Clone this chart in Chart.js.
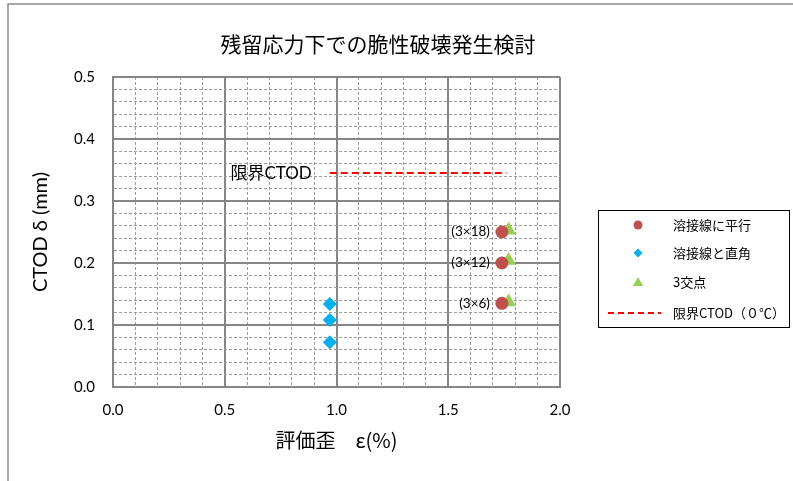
<!DOCTYPE html>
<html><head><meta charset="utf-8">
<script src="https://cdn.jsdelivr.net/npm/chart.js@4/dist/chart.umd.min.js"></script>
<style>html,body{margin:0;padding:0;background:#fff}</style>
</head><body>
<canvas id="c" width="793" height="481" style="width:793px;height:481px;display:block"></canvas>
<script>
// ---- data ----
const chartTitle = '残留応力下での脆性破壊発生検討';
const xTitle = '評価歪　ε(%)';
const yTitle = 'CTOD δ (mm)';
const seriesNames = ['溶接線に平行', '溶接線と直角', '3交点', '限界CTOD（０℃）'];
const parallelX = [1.74, 1.74, 1.74];
const parallelY = [0.25, 0.20, 0.135];
const perpX = [0.97, 0.97, 0.97];
const perpY = [0.134, 0.108, 0.072];
const tripleX = [1.77, 1.77, 1.77];
const tripleY = [0.253, 0.204, 0.137];
const pointLabels = ['(3×18)', '(3×12)', '(3×6)'];
const limitX = [0.97, 1.76];
const limitY = [0.345, 0.345];
const limitLabel = '限界CTOD';
const xRange = [0, 2.0];
const yRange = [0, 0.5];

const zip = (xs, ys) => xs.map((x, i) => ({x, y: ys[i]}));
const FONT = "Lato, 'Noto Sans CJK JP', sans-serif";
const CJK = "'Noto Sans CJK JP', sans-serif";
const colors = ['#C0504D', '#00B0F0', '#92D050', '#FF0000'];

const isMult = (v, step) => Math.abs(v / step - Math.round(v / step)) < 1e-6;

const decor = {
  id: 'decor',
  beforeDraw(chart) {
    const ctx = chart.ctx;
    ctx.save();
    ctx.fillStyle = '#fff';
    ctx.fillRect(0, 0, chart.width, chart.height);
    ctx.strokeStyle = '#8c8c8c';
    ctx.lineWidth = 1.5;
    ctx.strokeRect(8, 4, 900, 600);
    ctx.restore();
  },
  afterDraw(chart) {
    const ctx = chart.ctx;
    const xs = chart.scales.x, ys = chart.scales.y;
    ctx.save();
    // title
    ctx.fillStyle = '#000';
    ctx.font = "21px " + CJK;
    ctx.textAlign = 'center';
    ctx.textBaseline = 'middle';
    ctx.fillText(chartTitle, 378, 44);
    // point labels
    ctx.font = "13.5px " + FONT;
    ctx.textAlign = 'right';
    pointLabels.forEach((t, i) => {
      ctx.fillText(t, xs.getPixelForValue(parallelX[i]) - 12, ys.getPixelForValue(parallelY[i]));
    });
    // limit label
    ctx.font = "17px " + FONT;
    ctx.fillText(limitLabel, xs.getPixelForValue(limitX[0]) - 18, ys.getPixelForValue(limitY[0]));
    // legend
    const bx = 598, by = 210, bw = 191, bh = 117;
    ctx.strokeStyle = '#000';
    ctx.lineWidth = 1;
    ctx.strokeRect(bx + 0.5, by + 0.5, bw, bh);
    const rows = [225, 253, 282, 313];
    const mx = 638;
    ctx.fillStyle = colors[0];
    ctx.beginPath(); ctx.arc(mx, rows[0], 4.5, 0, Math.PI * 2); ctx.fill();
    ctx.fillStyle = colors[1];
    ctx.beginPath(); ctx.moveTo(mx, rows[1] - 4.5); ctx.lineTo(mx + 4.5, rows[1]); ctx.lineTo(mx, rows[1] + 4.5); ctx.lineTo(mx - 4.5, rows[1]); ctx.closePath(); ctx.fill();
    ctx.fillStyle = colors[2];
    ctx.beginPath(); ctx.moveTo(mx, rows[2] - 5); ctx.lineTo(mx + 5, rows[2] + 4); ctx.lineTo(mx - 5, rows[2] + 4); ctx.closePath(); ctx.fill();
    ctx.strokeStyle = colors[3];
    ctx.lineWidth = 2;
    ctx.setLineDash([6, 4]);
    ctx.beginPath(); ctx.moveTo(608, rows[3]); ctx.lineTo(661, rows[3]); ctx.stroke();
    ctx.setLineDash([]);
    ctx.fillStyle = '#000';
    ctx.font = "13px " + CJK;
    ctx.textAlign = 'left';
    seriesNames.forEach((t, i) => ctx.fillText(t, 673, rows[i]));
    ctx.restore();
  }
};

const gridOpts = (step) => ({
  drawTicks: false,
  color: c => (c.tick && isMult(c.tick.value, step)) ? '#868686' : '#9c9c9c',
  lineWidth: c => (c.tick && isMult(c.tick.value, step)) ? 2 : 1
});
const borderOpts = (step) => ({
  display: true, color: '#868686', width: 2,
  dash: c => (c.tick && !isMult(c.tick.value, step)) ? [3, 2] : []
});

new Chart(document.getElementById('c'), {
  type: 'scatter',
  data: {
    datasets: [
      {label: seriesNames[0], data: zip(parallelX, parallelY), backgroundColor: colors[0], borderColor: colors[0], pointStyle: 'circle', pointRadius: 6.5, pointHoverRadius: 6.5, borderWidth: 0},
      {label: seriesNames[1], data: zip(perpX, perpY), backgroundColor: colors[1], borderColor: colors[1], pointStyle: 'rectRot', pointRadius: 7, pointHoverRadius: 7, borderWidth: 0},
      {label: seriesNames[2], data: zip(tripleX, tripleY), backgroundColor: colors[2], borderColor: colors[2], pointStyle: 'triangle', pointRadius: 8.5, pointHoverRadius: 8.5, borderWidth: 0},
      {label: seriesNames[3], type: 'line', data: zip(limitX, limitY), borderColor: colors[3], backgroundColor: colors[3], borderWidth: 2, borderDash: [7, 4], pointRadius: 0, showLine: true, fill: false}
    ]
  },
  options: {
    responsive: false,
    animation: false,
    devicePixelRatio: 1,
    layout: {padding: {left: 10, right: 233, top: 77, bottom: 8}},
    plugins: {legend: {display: false}, title: {display: false}, tooltip: {enabled: false}},
    scales: {
      x: {
        type: 'linear', min: xRange[0], max: xRange[1],
        ticks: {stepSize: 0.1, maxTicksLimit: 100, autoSkip: false, maxRotation: 0, padding: 14,
          color: '#000', font: {family: FONT, size: 15},
          callback: v => isMult(v, 0.5) ? v.toFixed(1) : ''},
        grid: gridOpts(0.5), border: borderOpts(0.5),
        title: {display: true, text: xTitle, color: '#000', font: {family: CJK, size: 20}, padding: {top: 4, bottom: 21}},
        afterFit: s => { s.height = 86; }
      },
      y: {
        type: 'linear', min: yRange[0], max: yRange[1],
        ticks: {stepSize: 0.02, maxTicksLimit: 100, autoSkip: false, padding: 18,
          color: '#000', font: {family: FONT, size: 15},
          callback: v => isMult(v, 0.1) ? v.toFixed(1) : ''},
        grid: gridOpts(0.1), border: borderOpts(0.1),
        title: {display: true, text: yTitle, color: '#000', font: {family: FONT, size: 20}, padding: {top: 19, bottom: 0}},
        afterFit: s => { s.width = 103; }
      }
    }
  },
  plugins: [decor]
});
</script>
</body></html>
